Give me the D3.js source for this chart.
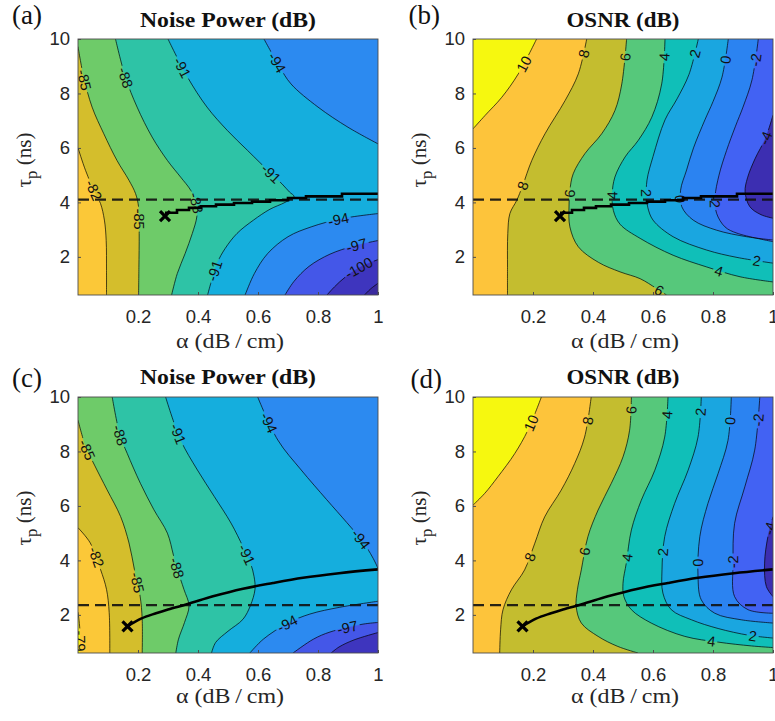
<!DOCTYPE html>
<html>
<head>
<meta charset="utf-8">
<script src="https://cdn.jsdelivr.net/npm/d3@7"></script>
<style>
  body { margin: 0; background: #fff; }
  svg { display: block; }
</style>
</head>
<body>
<div id="chart"></div>
<script>
// axes
const alphaDomain = [0, 1];
const tauDomain = [0.6, 10];
const alphaTicks = [0.2, 0.4, 0.6, 0.8, 1];
const tauTicks = [2, 4, 6, 8, 10];

// contour levels and the band colours (band i lies below level i, last band above the top level)
const noiseLevels = [-103, -100, -97, -94, -91, -88, -85, -82, -79];
const noiseColors = ['#3a2a9e', '#3e35be', '#4457e8', '#2c8af0', '#15aedd', '#2ec3a6', '#6ecb69', '#d4be2c', '#fbc838', '#f8f412'];
const osnrLevels = [-4, -2, 0, 2, 4, 6, 8, 10];
const osnrColors = ['#3c2eb1', '#4262f3', '#2b83f1', '#1aa6e0', '#10bfb8', '#56c87b', '#c4bd2f', '#fdc43b', '#f6f80f'];

// contour lines, [alpha, tau]; lower values lie on the left of travel
const contoursA = [
  {level: -82, pts: [[0, 6.0], [0.025, 5.18], [0.058, 4.32], [0.075, 3.96], [0.088, 3.35], [0.094, 2.6], [0.095, 1.5], [0.095, 0.6]]},
  {level: -85, pts: [[0, 9.72], [0.019, 8.6], [0.047, 7.5], [0.086, 6.52], [0.13, 5.54], [0.17, 4.81], [0.192, 4.32], [0.202, 3.83], [0.204, 2.86], [0.203, 1.6], [0.202, 0.6]]},
  {level: -88, pts: [[0.125, 10], [0.158, 8.6], [0.197, 7.5], [0.247, 6.4], [0.298, 5.54], [0.342, 4.93], [0.376, 4.44], [0.395, 3.96], [0.396, 3.47], [0.381, 2.86], [0.357, 2.12], [0.331, 1.39], [0.312, 0.6]]},
  {level: -91, pts: [[0.30, 10], [0.365, 8.6], [0.43, 7.5], [0.498, 6.64], [0.565, 5.91], [0.64, 5.1], [0.68, 4.68], [0.705, 4.38], [0.72, 4.22], [0.69, 4.0], [0.64, 3.75], [0.585, 3.35], [0.53, 2.86], [0.49, 2.3], [0.465, 1.8], [0.447, 1.2], [0.432, 0.6]]},
  {level: -94, pts: [[0.62, 10], [0.671, 9.0], [0.71, 8.35], [0.8, 7.5], [0.9, 6.76], [1, 6.15]]},
  {level: -94, pts: [[1, 3.59], [0.877, 3.4], [0.777, 3.1], [0.70, 2.74], [0.632, 2.12], [0.588, 1.39], [0.557, 0.6]]},
  {level: -97, pts: [[1, 2.6], [0.92, 2.4], [0.84, 2.1], [0.77, 1.65], [0.72, 1.1], [0.69, 0.6]]},
  {level: -100, pts: [[1, 1.9], [0.94, 1.62], [0.89, 1.25], [0.855, 0.9], [0.83, 0.6]]},
  {level: -103, pts: [[1, 1.03], [0.975, 0.82], [0.955, 0.6]]}
];
const contoursB = [
  {level: 10, pts: [[0.212, 10], [0.151, 8.72], [0.096, 7.86], [0.04, 7.19], [0, 6.7]]},
  {level: 8, pts: [[0.379, 10], [0.351, 8.72], [0.307, 7.74], [0.24, 6.52], [0.196, 5.54], [0.165, 4.6], [0.146, 4.08], [0.123, 3.59], [0.116, 2.86], [0.115, 1.6], [0.115, 0.6]]},
  {level: 6, pts: [[0.512, 10], [0.496, 8.35], [0.473, 7.37], [0.429, 6.52], [0.373, 5.79], [0.334, 5.05], [0.323, 4.44], [0.32, 3.83], [0.323, 3.1], [0.351, 2.37], [0.418, 1.8], [0.49, 1.45], [0.557, 1.2], [0.61, 0.85], [0.645, 0.6]]},
  {level: 4, pts: [[0.64, 10], [0.629, 8.35], [0.596, 7.13], [0.551, 6.28], [0.507, 5.67], [0.473, 4.93], [0.464, 4.3], [0.468, 3.7], [0.49, 3.2], [0.557, 2.68], [0.667, 2.06], [0.779, 1.63], [0.89, 1.27], [1, 1.08]]},
  {level: 2, pts: [[0.751, 10], [0.72, 8.7], [0.68, 7.8], [0.64, 7.03], [0.6, 5.68], [0.58, 4.82], [0.578, 4.2], [0.583, 3.8], [0.6, 3.35], [0.667, 2.74], [0.779, 2.25], [0.88, 1.98], [1, 1.77]]},
  {level: 0, pts: [[0.851, 10], [0.83, 8.6], [0.8, 7.7], [0.773, 7.03], [0.735, 6.0], [0.712, 5.19], [0.692, 4.45], [0.696, 3.84], [0.734, 3.35], [0.812, 2.98], [0.912, 2.74], [1, 2.62]]},
  {level: -2, pts: [[0.951, 10], [0.93, 8.5], [0.9, 7.5], [0.875, 6.8], [0.845, 5.9], [0.82, 5.0], [0.807, 4.2], [0.812, 3.6], [0.84, 3.1], [0.88, 2.87], [1, 2.56]]},
  {level: -4, pts: [[1, 7.2], [0.975, 6.36], [0.94, 5.6], [0.915, 4.9], [0.907, 4.39], [0.923, 3.84], [0.96, 3.55], [1, 3.42]]}
];
const contoursC = [
  {level: -79, pts: [[0, 2.1], [0.006, 1.5], [0.008, 0.6]]},
  {level: -82, pts: [[0, 5.2], [0.041, 4.64], [0.075, 3.67], [0.095, 2.94], [0.104, 2.08], [0.106, 0.6]]},
  {level: -85, pts: [[0, 9.15], [0.025, 8.2], [0.055, 7.5], [0.097, 6.59], [0.142, 5.61], [0.17, 4.64], [0.188, 3.67], [0.207, 2.69], [0.214, 1.84], [0.214, 0.6]]},
  {level: -88, pts: [[0.114, 10], [0.14, 8.6], [0.164, 7.93], [0.208, 6.83], [0.253, 5.86], [0.298, 5.0], [0.318, 4.2], [0.331, 3.67], [0.353, 2.94], [0.37, 2.33], [0.355, 1.72], [0.335, 1.11], [0.326, 0.6]]},
  {level: -91, pts: [[0.292, 10], [0.342, 8.42], [0.398, 7.32], [0.454, 6.35], [0.51, 5.37], [0.55, 4.5], [0.575, 3.9], [0.587, 3.4], [0.59, 2.94], [0.575, 2.35], [0.55, 1.84], [0.5, 1.4], [0.459, 0.99], [0.445, 0.6]]},
  {level: -94, pts: [[0.599, 10], [0.666, 8.42], [0.744, 7.32], [0.829, 6.23], [0.896, 5.39], [0.945, 4.75], [0.975, 4.25], [0.992, 3.9], [1, 3.7]]},
  {level: -94, pts: [[1, 2.5], [0.873, 2.28], [0.773, 2.03], [0.7, 1.7], [0.618, 1.11], [0.573, 0.6]]},
  {level: -97, pts: [[1, 1.72], [0.95, 1.66], [0.84, 1.37], [0.785, 1.11], [0.717, 0.6]]},
  {level: -100, pts: [[1, 1.35], [0.92, 1.08], [0.87, 0.82], [0.844, 0.6]]}
];
const contoursD = [
  {level: 10, pts: [[0.228, 10], [0.183, 8.78], [0.139, 7.92], [0.083, 7.07], [0.039, 6.46], [0, 6.03]]},
  {level: 8, pts: [[0.394, 10], [0.372, 8.53], [0.339, 7.56], [0.294, 6.58], [0.239, 5.6], [0.206, 4.63], [0.172, 3.65], [0.128, 2.92], [0.1, 2.19], [0.092, 1.45], [0.089, 0.6]]},
  {level: 6, pts: [[0.528, 10], [0.522, 8.78], [0.5, 7.8], [0.461, 6.83], [0.417, 5.85], [0.383, 4.87], [0.361, 3.65], [0.348, 2.92], [0.344, 2.31], [0.361, 1.7], [0.417, 1.21], [0.483, 0.84], [0.55, 0.6]]},
  {level: 4, pts: [[0.65, 10], [0.639, 8.53], [0.606, 7.31], [0.561, 6.21], [0.528, 5.12], [0.511, 3.9], [0.5, 3.16], [0.503, 2.67], [0.528, 2.19], [0.594, 1.7], [0.706, 1.21], [0.817, 1.0], [0.928, 0.86], [1, 0.8]]},
  {level: 2, pts: [[0.761, 10], [0.75, 8.53], [0.717, 7.31], [0.672, 6.09], [0.639, 4.87], [0.63, 3.65], [0.633, 2.8], [0.661, 2.19], [0.728, 1.82], [0.817, 1.5], [0.92, 1.25], [1, 1.15]]},
  {level: 0, pts: [[0.861, 10], [0.85, 8.41], [0.817, 7.19], [0.783, 6.09], [0.756, 4.87], [0.75, 3.41], [0.761, 2.55], [0.806, 2.06], [0.894, 1.82], [1, 1.7]]},
  {level: -2, pts: [[0.956, 10], [0.939, 8.05], [0.906, 6.7], [0.872, 5.36], [0.867, 3.9], [0.872, 2.67], [0.917, 2.19], [1, 2.06]]},
  {level: -4, pts: [[1, 5.6], [0.983, 4.87], [0.972, 3.9], [0.978, 3.04], [1, 2.67]]}
];

// contour labels: [level, alpha, tau] (snapped onto the line)
const labelsA = [[-85, 0.025, 8.5], [-85, 0.205, 3.4], [-82, 0.041, 4.4], [-88, 0.147, 8.55], [-88, 0.39, 3.95], [-91, 0.342, 8.9], [-91, 0.643, 5.05], [-91, 0.454, 1.5], [-94, 0.671, 9.2], [-94, 0.872, 3.2], [-97, 0.93, 2.3], [-100, 0.944, 1.45]];
const labelsB = [[10, 0.179, 9.02], [8, 0.37, 9.45], [8, 0.168, 4.6], [6, 0.501, 9.33], [6, 0.334, 4.32], [6, 0.618, 0.72], [4, 0.631, 9.33], [4, 0.473, 4.26], [4, 0.82, 1.47], [2, 0.738, 9.47], [2, 0.584, 4.35], [2, 0.947, 1.84], [0, 0.849, 9.21], [0, 0.69, 4.12], [-2, 0.953, 9.21], [-2, 0.806, 4.05], [-4, 0.975, 6.36]];
const labelsC = [[-85, 0.025, 8.05], [-82, 0.039, 4.03], [-85, 0.19, 3.18], [-88, 0.139, 8.6], [-88, 0.326, 3.73], [-91, 0.323, 8.6], [-91, 0.56, 4.2], [-94, 0.621, 8.96], [-94, 0.92, 4.6], [-94, 0.7, 1.65], [-97, 0.9, 1.5], [-79, 0.008, 1.05]];
const labelsD = [[10, 0.198, 9.02], [8, 0.383, 9.12], [8, 0.2, 4.1], [6, 0.524, 9.51], [6, 0.386, 4.29], [4, 0.641, 9.33], [4, 0.517, 4.1], [4, 0.794, 0.96], [2, 0.756, 9.45], [2, 0.639, 4.29], [2, 0.93, 1.15], [0, 0.861, 9.12], [0, 0.753, 3.92], [-2, 0.959, 9.15], [-2, 0.872, 3.93], [-4, 0.992, 5.18]];

// optimum tau path and chosen point, dashed reference tau
const optAlphaAB = [0.29, 0.33, 0.37, 0.41, 0.46, 0.52, 0.58, 0.64, 0.70, 0.76, 0.88, 1.0];
const optTauAB = [3.62, 3.72, 3.80, 3.86, 3.92, 3.98, 4.03, 4.08, 4.16, 4.22, 4.32, 4.32];
const optAlphaCD = [0.165, 0.21, 0.26, 0.30, 0.36, 0.45, 0.55, 0.65, 0.75, 0.87, 1.0];
const optTauCD = [1.58, 1.86, 2.06, 2.2, 2.38, 2.68, 2.96, 3.17, 3.36, 3.53, 3.67];
const markAB = [0.29, 3.5];
const markCD = [0.165, 1.58];
const dashTauAB = 4.1;
const dashTauCD = 2.36;

const W = 775, H = 721, PW = 300, PH = 256;

const panels = [
  {id: 'a', tag: '(a)', title: 'Noise Power (dB)', titleLen: 176, x0: 78, y0: 39, tagX: 42, tagY: 24, titleY: 27, axisY: 348,
   contours: contoursA, labels: labelsA, levels: noiseLevels, colors: noiseColors,
   optA: optAlphaAB, optT: optTauAB, step: true, mark: markAB, dash: dashTauAB},
  {id: 'b', tag: '(b)', title: 'OSNR (dB)', titleLen: 113, x0: 473, y0: 39, tagX: 440, tagY: 24, titleY: 27, axisY: 348,
   contours: contoursB, labels: labelsB, levels: osnrLevels, colors: osnrColors,
   optA: optAlphaAB, optT: optTauAB, step: true, mark: markAB, dash: dashTauAB},
  {id: 'c', tag: '(c)', title: 'Noise Power (dB)', titleLen: 176, x0: 78, y0: 397, tagX: 42, tagY: 387, titleY: 384, axisY: 703,
   contours: contoursC, labels: labelsC, levels: noiseLevels, colors: noiseColors,
   optA: optAlphaCD, optT: optTauCD, step: false, mark: markCD, dash: dashTauCD},
  {id: 'd', tag: '(d)', title: 'OSNR (dB)', titleLen: 113, x0: 473, y0: 397, tagX: 442, tagY: 388, titleY: 384, axisY: 703,
   contours: contoursD, labels: labelsD, levels: osnrLevels, colors: osnrColors,
   optA: optAlphaCD, optT: optTauCD, step: false, mark: markCD, dash: dashTauCD}
];

const svg = d3.select('#chart').append('svg')
  .attr('width', W)
  .attr('height', H)
  .style('font-family', '"Liberation Sans", Arial, Helvetica, sans-serif');
const defs = svg.append('defs');

const [T0, T1] = tauDomain;

// position of a boundary point along the box, counter-clockwise from the lower left corner
function perim([a, t]) {
  const eps = 1e-6;
  if (Math.abs(t - T0) < eps) return a;
  if (Math.abs(a - 1) < eps) return 1 + (t - T0) / (T1 - T0);
  if (Math.abs(t - T1) < eps) return 2 + (1 - a);
  return 3 + (T1 - t) / (T1 - T0);
}
const cornerAt = k => [[0, T0], [1, T0], [1, T1], [0, T1]][k % 4];

panels.forEach(p => {
  const x = d3.scaleLinear().domain(alphaDomain).range([p.x0, p.x0 + PW]);
  const y = d3.scaleLinear().domain(tauDomain).range([p.y0 + PH, p.y0]);
  const line = d3.line().x(d => x(d[0])).y(d => y(d[1])).curve(d3.curveCatmullRom.alpha(0.5));

  defs.append('clipPath').attr('id', 'clip-' + p.id)
    .append('rect').attr('x', p.x0).attr('y', p.y0).attr('width', PW).attr('height', PH);
  const mask = defs.append('mask').attr('id', 'mask-' + p.id)
    .attr('maskUnits', 'userSpaceOnUse')
    .attr('x', p.x0 - 5).attr('y', p.y0 - 5).attr('width', PW + 10).attr('height', PH + 10);
  mask.append('rect').attr('x', p.x0 - 5).attr('y', p.y0 - 5).attr('width', PW + 10).attr('height', PH + 10).attr('fill', '#fff');

  const g = svg.append('g').attr('class', 'panel panel-' + p.id);
  const plot = g.append('g').attr('clip-path', `url(#clip-${p.id})`);

  // filled bands: start with the band above the highest level, then paint lower regions on top
  const present = p.contours.map(c => c.level);
  const topIdx = p.levels.indexOf(d3.max(present)) + 1;
  plot.append('rect')
    .attr('x', p.x0).attr('y', p.y0).attr('width', PW).attr('height', PH)
    .attr('fill', p.colors[topIdx]);

  const ordered = p.contours.slice().sort((m, n) => n.level - m.level);
  plot.append('g').attr('class', 'fills')
    .selectAll('path')
    .data(ordered)
    .join('path')
    .attr('fill', d => p.colors[p.levels.indexOf(d.level)])
    .attr('stroke', d => p.colors[p.levels.indexOf(d.level)])
    .attr('stroke-width', 0.3)
    .attr('d', d => {
      const pts = d.pts;
      const sE = perim(pts[pts.length - 1]);
      let sS = perim(pts[0]);
      if (sS <= sE) sS += 4;
      let s = line(pts);
      for (let k = Math.floor(sE) + 1; k < sS; k++) {
        const c = cornerAt(k);
        s += `L${x(c[0])},${y(c[1])}`;
      }
      return s + 'Z';
    });

  const lines = plot.append('g').attr('class', 'contour-lines')
    .attr('mask', `url(#mask-${p.id})`)
    .selectAll('path')
    .data(p.contours)
    .join('path')
    .attr('fill', 'none')
    .attr('stroke', '#000')
    .attr('stroke-opacity', 0.85)
    .attr('stroke-width', 0.8)
    .attr('d', d => line(d.pts));

  // contour labels, snapped to the nearest point of their line
  const labelG = plot.append('g').attr('class', 'contour-labels');
  p.labels.forEach(([lvl, la, lt]) => {
    const tx = x(la), ty = y(lt);
    let best = null;
    lines.filter(d => d.level === lvl).each(function () {
      const len = this.getTotalLength();
      for (let l = 0; l <= len; l += 1) {
        const q = this.getPointAtLength(l);
        const dd = (q.x - tx) ** 2 + (q.y - ty) ** 2;
        if (!best || dd < best.dd) best = {dd, l, len, node: this, q};
      }
    });
    if (!best) return;
    const q1 = best.node.getPointAtLength(Math.max(0, best.l - 5));
    const q2 = best.node.getPointAtLength(Math.min(best.len, best.l + 5));
    let ang = Math.atan2(q2.y - q1.y, q2.x - q1.x) * 180 / Math.PI;
    if (ang > 90) ang -= 180;
    if (ang < -90) ang += 180;
    const tr = `translate(${best.q.x},${best.q.y}) rotate(${ang})`;
    const t = labelG.append('text')
      .attr('transform', tr)
      .attr('text-anchor', 'middle')
      .attr('dy', '0.36em')
      .attr('font-size', 14.5)
      .attr('fill', '#111')
      .text(lvl);
    const w = t.node().getComputedTextLength();
    mask.append('rect')
      .attr('transform', tr)
      .attr('x', -w / 2 - 2).attr('y', -7)
      .attr('width', w + 4).attr('height', 14)
      .attr('fill', '#000');
  });

  // dashed reference line
  plot.append('line')
    .attr('x1', x(alphaDomain[0])).attr('x2', x(alphaDomain[1]))
    .attr('y1', y(p.dash)).attr('y2', y(p.dash))
    .attr('stroke', '#111')
    .attr('stroke-opacity', 0.9)
    .attr('stroke-width', 2.2)
    .attr('stroke-dasharray', '11,6');

  // optimum path
  const opt = p.optA.map((a, i) => [a, p.optT[i]]);
  plot.append('path')
    .datum(opt)
    .attr('fill', 'none')
    .attr('stroke', '#000')
    .attr('stroke-width', 2.6)
    .attr('d', d3.line().x(d => x(d[0])).y(d => y(d[1]))
      .curve(p.step ? d3.curveStepAfter : d3.curveMonotoneX));

  g.append('path')
    .attr('transform', `translate(${x(p.mark[0])},${y(p.mark[1])})`)
    .attr('d', 'M-5,-5L5,5M-5,5L5,-5')
    .attr('stroke', '#000')
    .attr('stroke-width', 3.2)
    .attr('fill', 'none');

  // box and axes
  g.append('rect')
    .attr('x', p.x0).attr('y', p.y0).attr('width', PW).attr('height', PH)
    .attr('fill', 'none').attr('stroke', '#4d4d4d').attr('stroke-width', 0.9);

  const xAxis = g.append('g')
    .attr('transform', `translate(0,${p.y0 + PH})`)
    .call(d3.axisBottom(x).tickValues(alphaTicks).tickFormat(d => d).tickSizeInner(-3).tickSizeOuter(0).tickPadding(15));
  const yAxis = g.append('g')
    .attr('transform', `translate(${p.x0},0)`)
    .call(d3.axisLeft(y).tickValues(tauTicks).tickFormat(d => d).tickSizeInner(-3).tickSizeOuter(0).tickPadding(8));
  [xAxis, yAxis].forEach(ax => {
    ax.select('.domain').remove();
    ax.selectAll('line').attr('stroke', '#4d4d4d');
    ax.selectAll('text')
      .attr('font-family', '"Liberation Sans", Arial, Helvetica, sans-serif')
      .attr('font-size', 18.5)
      .attr('fill', '#262626');
  });

  // titles and axis labels
  const cx = p.x0 + PW / 2;
  g.append('text')
    .attr('x', cx).attr('y', p.titleY)
    .attr('text-anchor', 'middle')
    .attr('font-family', '"Liberation Serif", "Times New Roman", serif')
    .attr('font-weight', 'bold')
    .attr('font-size', 21)
    .attr('textLength', p.titleLen)
    .attr('lengthAdjust', 'spacingAndGlyphs')
    .attr('fill', '#111')
    .text(p.title);

  g.append('text')
    .attr('x', p.tagX).attr('y', p.tagY)
    .attr('text-anchor', 'end')
    .attr('font-family', '"Liberation Serif", "Times New Roman", serif')
    .attr('font-size', 27)
    .attr('fill', '#111')
    .text(p.tag);

  g.append('text')
    .attr('x', cx + 2).attr('y', p.axisY)
    .attr('text-anchor', 'middle')
    .attr('font-family', '"Liberation Serif", "Times New Roman", serif')
    .attr('font-size', 20)
    .attr('textLength', 108)
    .attr('lengthAdjust', 'spacingAndGlyphs')
    .attr('fill', '#262626')
    .text('\u03b1 (dB\u2009/\u2009cm)');

  const yl = g.append('text')
    .attr('transform', `translate(${p.x0 - 47},${p.y0 + PH / 2 - 7}) rotate(-90)`)
    .attr('text-anchor', 'middle')
    .attr('font-family', '"Liberation Serif", "Times New Roman", serif')
    .attr('font-size', 21)
    .attr('fill', '#262626');
  yl.append('tspan').text('\u03c4');
  yl.append('tspan').attr('dy', 6).attr('font-size', 17).text('p');
  yl.append('tspan').attr('dy', -6).text(' (ns)');
});
</script>
</body>
</html>
